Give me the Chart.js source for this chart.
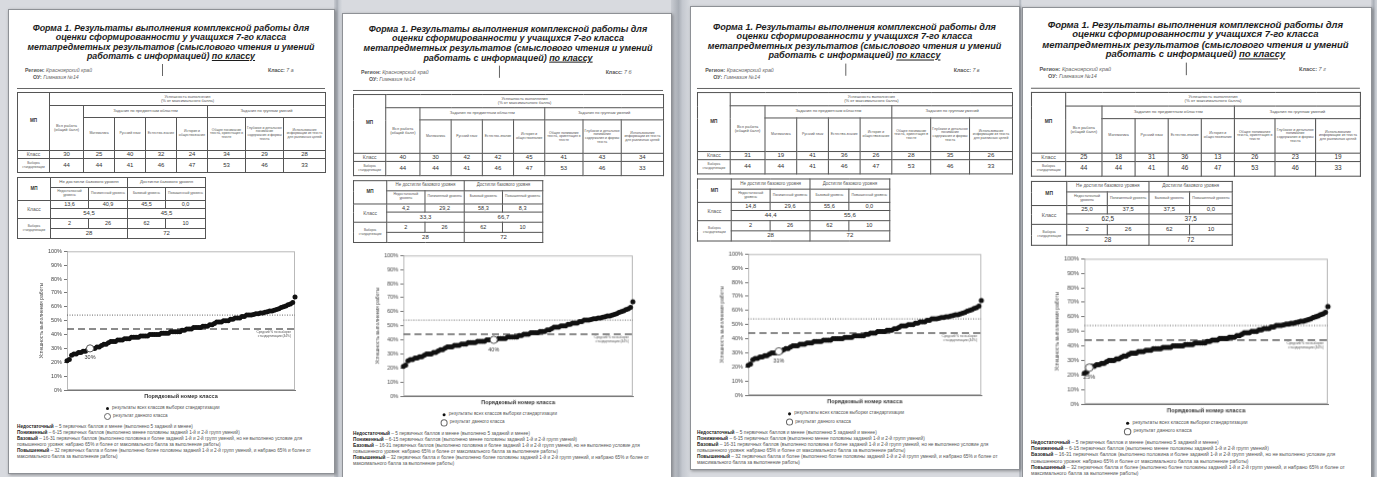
<!DOCTYPE html>
<html>
<head>
<meta charset="utf-8">
<script src="https://cdn.jsdelivr.net/npm/chart.js@4.4.1/dist/chart.umd.min.js"></script>
<style>
  html, body { margin: 0; padding: 0; }
  body {
    width: 1377px; height: 477px; overflow: hidden; position: relative;
    background: #d8dadf; font-family: "Liberation Sans", Arial, sans-serif;
  }
  .gap { position: absolute; top: 0; height: 477px; background: linear-gradient(90deg, #c9ccd2, #a9aeb6 40%, #c4c8cf 60%, #d6d9de); }
  .page { position: absolute; background: #fff; border: 1px solid #8e9196; box-shadow: 1px 1px 3px rgba(0, 0, 0, .35); }
  .sheet { position: absolute; left: 0; top: 0; width: 340px; height: 480px; transform-origin: 0 0; color: #444; }
  .sheet > * { position: absolute; }
  .tl { left: 0; width: 342px; text-align: center; white-space: nowrap; font: italic bold 8.9px "Liberation Sans", Arial, sans-serif; color: #1c1c1c; }
  .tl u { text-decoration-thickness: 1px; }
  .meta { font-size: 5.2px; white-space: nowrap; color: #555; }
  .meta i { color: #666; }
  .bar { width: 1px; background: #666; }
  .hr { height: 1px; background: #666; }
  table { border-collapse: collapse; table-layout: fixed; border: 1.5px solid #333; }
  td { border: 1px solid #555; padding: 0; text-align: center; vertical-align: middle; overflow: hidden; line-height: 1.05; color: #555; }
  td.h { font-size: 4px; }
  td.sub { font-size: 3.4px; }
  td.mp { font-size: 4.6px; font-weight: bold; color: #333; }
  td.rl { font-size: 5px; }
  td.rs { font-size: 3px; }
  td.num { font-size: 6px; color: #333; }
  .leg { font-size: 4.6px; white-space: nowrap; color: #555; }
  .dot { width: 3px; height: 3px; border-radius: 50%; background: #111; }
  .ring { width: 5px; height: 5px; border-radius: 50%; border: 1px solid #666; background: #fff; }
  .notes { font-size: 4.7px; line-height: 6px; white-space: nowrap; color: #555; }
  .notes b { color: #222; }
</style>
</head>
<body>
<script>
// результаты всех классов выборки стандартизации, по возрастанию (%)
const SAMPLE_RESULTS = [
  21, 22, 25, 26, 26, 27, 27, 28, 28, 29,
  30, 30, 30, 31, 31, 32, 33, 33, 34, 35,
  35, 35, 36, 36, 36, 37, 37, 37, 38, 38,
  38, 38, 39, 39, 39, 39, 40, 40, 40, 40,
  40, 41, 41, 41, 41, 42, 42, 42, 42, 42,
  43, 43, 44, 44, 44, 45, 45, 45, 45, 46,
  46, 46, 47, 47, 48, 49, 49, 49, 50, 50,
  50, 51, 51, 52, 52, 52, 53, 53, 54, 54,
  54, 54.5, 55, 55, 55.5, 55.5, 56, 56.5, 57, 57,
  57.5, 58, 58.5, 59.5, 60, 60.5, 61.5, 62, 63, 67
];
const SAMPLE_MEAN = 44;
const UPPER_LINE = 54;
const Y_TICKS = [0, 10, 20, 30, 40, 50, 60, 70, 80, 90, 100];

const CLASS_NAMES = ["7 а", "7 б", "7 в", "7 г"];
const CLASS_RANK = [11, 40, 14, 3];

const SCORE_HEADERS = [
  "Математика", "Русский язык", "Естество-знание", "История и обществознание",
  "Общее понимание текста, ориентация в тексте",
  "Глубокое и детальное понимание содержания и формы текста",
  "Использование информации из текста для различных целей"
];
const CLASS_SCORES = [
  [30, 25, 40, 32, 24, 34, 29, 28],
  [40, 30, 42, 42, 45, 41, 43, 34],
  [31, 19, 41, 36, 26, 28, 35, 26],
  [25, 18, 31, 36, 13, 26, 23, 19]
];
const SAMPLE_SCORES = [44, 44, 41, 46, 47, 53, 46, 33];

const LEVEL_HEADERS = ["Недостаточный уровень", "Пониженный уровень", "Базовый уровень", "Повышенный уровень"];
const CLASS_LEVELS = [
  [13.6, 40.9, 45.5, 0.0],
  [4.2, 29.2, 58.3, 8.3],
  [14.8, 29.6, 55.6, 0.0],
  [25.0, 37.5, 37.5, 0.0]
];
const CLASS_LEVEL_SUMS = [[54.5, 45.5], [33.3, 66.7], [44.4, 55.6], [62.5, 37.5]];
const SAMPLE_LEVELS = [2, 26, 62, 10];
const SAMPLE_LEVEL_SUMS = [28, 72];

// page frames and the sheet transform of each screenshot
const PAGE_BOXES = [[8, 9, 325, 463], [342, 13, 328, 470], [690, 6, 328, 462], [1022, 7, 348, 475]];
const SHEET_FIT = [[0, 0, 1, 1], [335.9, 0.8, 1.0065, 1.0134], [679.6, -1.5, 1.0227, 1.0168], [1012.8, -4.4, 1.068, 1.047]];

const T1_COLS = [32, 34, 31, 31, 31, 31, 38, 38, 42];
const T2_COLS = [33, 38, 39, 38, 40];

const dec = (v) => v.toFixed(1).replace(".", ",");

function scoreTable(p) {
  const cols = T1_COLS.map((w) => `<col style="width:${w}px">`).join("");
  const heads = SCORE_HEADERS.map((t) => `<td class="sub">${t}</td>`).join("");
  const cls = CLASS_SCORES[p].map((v) => `<td class="num">${v}</td>`).join("");
  const smp = SAMPLE_SCORES.map((v) => `<td class="num">${v}</td>`).join("");
  return `<table style="left:17px;top:92px;width:308px">
    <colgroup>${cols}</colgroup>
    <tr style="height:13px"><td rowspan="3" class="mp">МП</td><td colspan="8" class="h">Успешность выполнения<br>(% от максимального балла)</td></tr>
    <tr style="height:12px"><td rowspan="2" class="h">Вся работа<br>(общий балл)</td><td colspan="4" class="h">Задания по предметным областям</td><td colspan="3" class="h">Задания по группам умений</td></tr>
    <tr style="height:33px">${heads}</tr>
    <tr style="height:8px"><td class="rl">Класс</td>${cls}</tr>
    <tr style="height:14px"><td class="rs">Выборка<br>стандартизации</td>${smp}</tr>
  </table>`;
}

function levelTable(p) {
  const cols = T2_COLS.map((w) => `<col style="width:${w}px">`).join("");
  const heads = LEVEL_HEADERS.map((t) => `<td class="rs" style="font-size:3.4px">${t}</td>`).join("");
  const cls = CLASS_LEVELS[p].map((v) => `<td class="num" style="font-size:5.5px">${dec(v)}</td>`).join("");
  const smp = SAMPLE_LEVELS.map((v) => `<td class="num" style="font-size:5.5px">${v}</td>`).join("");
  const [a, b] = CLASS_LEVEL_SUMS[p];
  return `<table style="left:17px;top:177px;width:188px">
    <colgroup>${cols}</colgroup>
    <tr style="height:10px"><td rowspan="2" class="mp">МП</td><td colspan="2" class="h" style="font-size:4.4px">Не достигли базового уровня</td><td colspan="2" class="h" style="font-size:4.4px">Достигли базового уровня</td></tr>
    <tr style="height:13px">${heads}</tr>
    <tr style="height:8px"><td rowspan="2" class="rl">Класс</td>${cls}</tr>
    <tr style="height:10px"><td colspan="2" class="num">${dec(a)}</td><td colspan="2" class="num">${dec(b)}</td></tr>
    <tr style="height:10px"><td rowspan="2" class="rs">Выборка<br>стандартизации</td>${smp}</tr>
    <tr style="height:10px"><td colspan="2" class="num">${SAMPLE_LEVEL_SUMS[0]}</td><td colspan="2" class="num">${SAMPLE_LEVEL_SUMS[1]}</td></tr>
  </table>`;
}

function sheetHTML(p) {
  return `
    <div class="tl" style="top:22.5px">Форма 1. Результаты выполнения комплексной работы для</div>
    <div class="tl" style="top:32px">оценки сформированности у учащихся 7-го класса</div>
    <div class="tl" style="top:41.5px">метапредметных результатов (смыслового чтения и умений</div>
    <div class="tl" style="top:51px">работать с информацией) <u>по классу</u></div>
    <div class="meta" style="left:25px;top:67px"><b>Регион:</b> <i>Красноярский край</i></div>
    <div class="meta" style="left:33px;top:74px"><b>ОУ:</b> <i>Гимназия №14</i></div>
    <div class="bar" style="left:162px;top:64px;height:12px"></div>
    <div class="meta" style="left:268px;top:67px"><b>Класс:</b> <i>${CLASS_NAMES[p]}</i></div>
    <div class="hr" style="left:17px;top:88px;width:308px"></div>
    ${scoreTable(p)}
    ${levelTable(p)}
    <canvas id="chart-${p}" width="270" height="158" style="left:30px;top:246px"></canvas>
    <div class="dot" style="left:105.5px;top:406.5px"></div>
    <div class="leg" style="left:112px;top:405px">результаты всех классов выборки стандартизации</div>
    <div class="ring" style="left:103.5px;top:412.5px"></div>
    <div class="leg" style="left:113px;top:413px">результат данного класса</div>
    <div class="notes" style="left:17px;top:424px">
      <b>Недостаточный</b> – 5 первичных баллов и менее (выполнено 5 заданий и менее)<br>
      <b>Пониженный</b> – 6-15 первичных баллов (выполнено менее половины заданий 1-й и 2-й групп умений)<br>
      <b>Базовый</b> – 16-31 первичных баллов (выполнено половина и более заданий 1-й и 2-й групп умений, но не выполнено условие для<br>
      повышенного уровня: набрано 65% и более от максимального балла за выполнение работы)<br>
      <b>Повышенный</b> – 32 первичных балла и более (выполнено более половины заданий 1-й и 2-й групп умений, и набрано 65% и более от<br>
      максимального балла за выполнение работы)
    </div>`;
}

const plotMarks = {
  id: "plotMarks",
  beforeDatasetsDraw(chart) {
    const { ctx, chartArea: a } = chart;
    ctx.save();
    ctx.strokeStyle = "#b9b9b9";
    ctx.lineWidth = 1;
    ctx.strokeRect(a.left + 0.5, a.top + 0.5, a.width - 1, a.height - 1);
    ctx.restore();
  },
  afterDatasetsDraw(chart, args, opts) {
    const { ctx, chartArea: a, scales: { x, y } } = chart;
    ctx.save();
    ctx.fillStyle = "#555";
    ctx.textAlign = "right";
    ctx.font = '3.2px "Liberation Sans"';
    const ym = y.getPixelForValue(SAMPLE_MEAN);
    ctx.fillText("Средний % по выборке", a.right - 4, ym + 4.5);
    ctx.fillText(`стандартизации (${SAMPLE_MEAN}%)`, a.right - 4, ym + 8.5);
    ctx.fillStyle = "#333";
    ctx.textAlign = "center";
    ctx.font = '5.5px "Liberation Sans"';
    ctx.fillText(`${opts.value}%`, x.getPixelForValue(opts.rank), y.getPixelForValue(opts.value) + 11);
    ctx.restore();
  },
};

function drawChart(p) {
  const n = SAMPLE_RESULTS.length;
  const value = CLASS_SCORES[p][0];
  const context = document.getElementById(`chart-${p}`).getContext("2d");
  new Chart(context, {
    type: "scatter",
    data: {
      datasets: [
        {
          label: "результат данного класса",
          data: [{ x: CLASS_RANK[p], y: value }],
          pointRadius: 3.6,
          pointBackgroundColor: "#fff",
          pointBorderColor: "#555",
          pointBorderWidth: 1,
          clip: false,
        },
        {
          label: "результаты всех классов выборки стандартизации",
          data: SAMPLE_RESULTS.map((v, i) => ({ x: i + 1, y: v })),
          pointRadius: 2.5,
          pointBackgroundColor: "#111",
          pointBorderWidth: 0,
          clip: false,
        },
        {
          data: [{ x: 1, y: SAMPLE_MEAN }, { x: n, y: SAMPLE_MEAN }],
          showLine: true,
          pointRadius: 0,
          borderColor: "#666",
          borderWidth: 1.5,
          borderDash: [7, 4],
        },
        {
          data: [{ x: 1, y: UPPER_LINE }, { x: n, y: UPPER_LINE }],
          showLine: true,
          pointRadius: 0,
          borderColor: "#555",
          borderWidth: 0.9,
          borderDash: [1, 1.5],
        },
      ],
    },
    options: {
      responsive: false,
      maintainAspectRatio: false,
      animation: false,
      events: [],
      layout: { padding: { top: 4, right: 3, left: 0, bottom: 0 } },
      plugins: {
        legend: { display: false },
        tooltip: { enabled: false },
        plotMarks: { rank: CLASS_RANK[p], value },
      },
      scales: {
        x: {
          type: "linear",
          min: 1,
          max: n,
          ticks: { display: false },
          grid: { display: false },
          border: { display: true, color: "#777", width: 1 },
          title: {
            display: true,
            text: "Порядковый номер класса",
            color: "#333",
            font: { family: "Liberation Sans", size: 5.5, weight: "bold" },
            padding: { top: 0, bottom: 4.7 },
          },
          afterFit: (scale) => { scale.height = 14; },
        },
        y: {
          min: 0,
          max: 100,
          afterBuildTicks: (scale) => { scale.ticks = Y_TICKS.map((v) => ({ value: v })); },
          ticks: {
            callback: (v) => `${v}%`,
            color: "#444",
            padding: 2,
            font: { family: "Liberation Sans", size: 5.5 },
          },
          grid: { display: true, drawOnChartArea: false, drawTicks: true, tickLength: 3, color: "#777" },
          border: { display: true, color: "#777", width: 1 },
          title: {
            display: true,
            text: "Успешность выполнения работы",
            color: "#444",
            font: { family: "Liberation Sans", size: 5 },
            padding: { top: 9, bottom: 0 },
          },
          afterFit: (scale) => { scale.width = 37; },
        },
      },
    },
    plugins: [plotMarks],
  });
}

for (const x of [333, 670, 1018, 1370]) {
  const g = document.createElement("div");
  g.className = "gap";
  g.style.left = `${x + 1}px`;
  g.style.width = `${x === 670 ? 19 : x === 1370 ? 7 : x === 333 ? 8 : 3}px`;
  document.body.appendChild(g);
}

PAGE_BOXES.forEach(([l, t, w, h]) => {
  const page = document.createElement("div");
  page.className = "page";
  Object.assign(page.style, { left: `${l}px`, top: `${t}px`, width: `${w}px`, height: `${h}px` });
  document.body.appendChild(page);
});

SHEET_FIT.forEach(([tx, ty, sx, sy], p) => {
  const sheet = document.createElement("div");
  sheet.className = "sheet";
  sheet.style.transform = `translate(${tx}px, ${ty}px) scale(${sx}, ${sy})`;
  sheet.innerHTML = sheetHTML(p);
  document.body.appendChild(sheet);
  drawChart(p);
});
</script>
</body>
</html>
